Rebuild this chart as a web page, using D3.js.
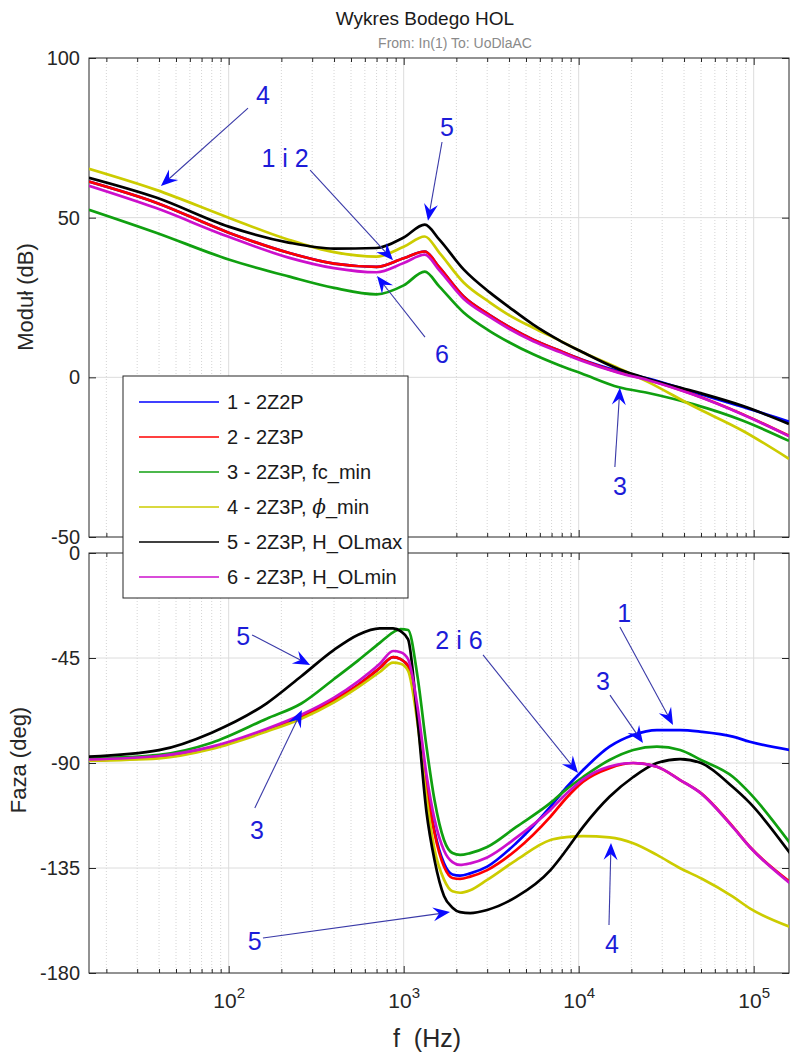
<!DOCTYPE html>
<html>
<head>
<meta charset="utf-8">
<script src="https://cdn.jsdelivr.net/npm/d3@7"></script>
<style>
  body { margin: 0; background: #fff; }
  text { font-family: "Liberation Sans", Arial, sans-serif; }
</style>
</head>
<body>
<svg width="790" height="1056"></svg>
<script>
// --- data ---
const seriesNames = ['1 - 2Z2P', '2 - 2Z3P', '3 - 2Z3P, fc_min', '4 - 2Z3P, \u03d5_min', '5 - 2Z3P, H_OLmax', '6 - 2Z3P, H_OLmin'];
const seriesColors = ['#0000ff', '#ff0000', '#10a010', '#cccc00', '#000000', '#cc10cc'];

const freqMag = [15.9, 38.5, 100, 220, 400, 700, 1000, 1320, 1600, 2200, 3100, 4000, 5500, 7800, 10400, 17000, 25000, 45000, 87000, 159000];
const magBlue    = [61.3, 54.7, 45.3, 39, 35.6, 34.6, 37.3, 39.4, 34.4, 25.3, 19.5, 15.8, 11.8, 8.3, 5.6, 1.9, -0.4, -4.6, -9.3, -13.9];
const magRed     = [61.3, 54.7, 45.3, 39, 35.6, 34.6, 37.3, 39.4, 34.4, 25.3, 19.5, 15.8, 11.8, 8.3, 5.5, 1.5, -0.8, -5.3, -11.6, -18.3];
const magGreen   = [52.5, 45.3, 36.9, 31.6, 28, 26, 28.8, 33.1, 28.4, 20.3, 14.5, 11, 7.2, 3.7, 1.2, -3.1, -4.9, -8.4, -13.6, -19.9];
const magYellow  = [65.3, 58.7, 50, 43.1, 39.2, 37.8, 40.9, 44.1, 39, 29.7, 23.5, 19.5, 15.5, 11.5, 8, 2.8, -1.5, -9, -16.8, -25.5];
const magBlack   = [62.5, 56.3, 47.2, 42.2, 40.3, 40.5, 43.8, 47.8, 43.1, 33.8, 26.6, 22, 16.5, 11.5, 8, 2.5, -0.5, -4.3, -9, -14.6];
const magMagenta = [60, 53, 44, 37.5, 34.2, 32.9, 35.8, 38.4, 33.5, 24.6, 18.9, 15.2, 11.3, 7.9, 5.2, 1.4, -0.9, -5.4, -11.7, -18.4];

const freqPhase = [15.9, 40, 80, 165, 260, 400, 550, 730, 870, 960, 1060, 1200, 1350, 1500, 1700, 1900, 2100, 2400, 3000, 4400, 6900, 8500, 10600, 15000, 20500, 28000, 38000, 50000, 76000, 95000, 161000];
const phBlue    = [-88.8, -87.5, -83.5, -75.9, -70, -63, -56.5, -49.3, -44.6, -45.5, -48.5, -70.1, -99, -119, -133, -137.8, -138.3, -137.3, -134.4, -124.3, -108.7, -100.5, -93, -83, -78, -75.9, -75.9, -76.6, -78.7, -80.9, -84.4];
const phRed     = [-88.8, -87.5, -83.5, -75.9, -70, -63, -56.5, -49.3, -44.6, -45.5, -48.5, -70.1, -100.1, -120, -134.4, -139.3, -139.7, -138.7, -135.9, -127.3, -113, -105, -98, -92.2, -90, -91.6, -97.3, -102.9, -117.3, -125.9, -140.9];
const phGreen   = [-88.1, -86.5, -81.3, -71, -64.5, -54, -46, -38.5, -34, -32.6, -33, -53, -83, -105.9, -123, -128.6, -129.4, -128.6, -126, -117.4, -107.1, -101.3, -96, -88.7, -84.4, -83, -84.4, -88.7, -95.9, -102.9, -124.3];
const phYellow  = [-89, -88, -84, -76.5, -71, -64, -57.5, -51, -47, -47.5, -50.5, -73, -105, -127, -140, -145, -145.6, -144.5, -140.1, -131.6, -123, -121.8, -121.3, -121.9, -124.4, -129.4, -135.1, -139.4, -147.3, -152.3, -160.2];
const phBlack   = [-87.3, -84.5, -77, -64.4, -52.8, -41.5, -35, -32.3, -32.3, -33.5, -37, -71.6, -111, -131.6, -147, -152, -153.9, -154.3, -153, -147.4, -135.9, -127.3, -117.4, -104.5, -96, -90, -88.3, -90, -100.3, -107.1, -128.6];
const phMagenta = [-88.5, -87, -83, -75.3, -69.3, -62, -55, -47.5, -42, -42.5, -45.5, -66, -95, -114, -127.5, -132.5, -133.7, -133, -130.5, -122, -110, -103.2, -97, -91.5, -90, -91.6, -97.3, -103, -117.5, -126, -141.5];

const magTicks = [100, 50, 0, -50];
const phaseTicks = [0, -45, -90, -135, -180];
const decadeTicks = [100, 1000, 10000, 100000];

// annotations in data units: [label, textF, textV, startF, startV, tipF, tipV]
const magNotes = [
  ['4', 157, 88.4, 129, 84.3, 41, 59.9],
  ['1 i 2', 210, 68.7, 292, 64.9, 869, 36.7],
  ['5', 1768, 78.4, 1656, 73.7, 1377, 49.0],
  ['6', 1656, 7.3, 1324, 12.6, 704, 31.7],
  ['3', 17200, -34.0, 16100, -28.1, 17200, -3.3]
];
const phaseNotes = [
  ['5', 121, -35.6, 136, -35.1, 292, -48],
  ['3', 145, -118.7, 141, -109.3, 262, -67.3],
  ['5', 141, -166.3, 157, -165, 1840, -153.9],
  ['2 i 6', 2070, -37.3, 2840, -43.7, 9910, -94.3],
  ['3', 13770, -54.9, 15100, -60.9, 23300, -81.4],
  ['1', 18200, -25.7, 17200, -31.7, 34600, -73.7],
  ['4', 15500, -167.6, 14900, -159.4, 15300, -124.3]
];

const magSeries = [magBlue, magRed, magGreen, magYellow, magBlack, magMagenta];
const phSeries = [phBlue, phRed, phGreen, phYellow, phBlack, phMagenta];

// --- layout ---
const svg = d3.select('svg');
const left = 89, right = 789;
const magTop = 58, magBottom = 537, phTop = 553, phBottom = 973;
const axisColor = '#262626';

const x = d3.scaleLog()
  .domain([100 / (2 * Math.PI), 1e6 / (2 * Math.PI)])
  .range([left, right]);
const yMag = d3.scaleLinear().domain([-50, 100]).range([magBottom, magTop]);
const yPh = d3.scaleLinear().domain([-180, 0]).range([phBottom, phTop]);

const allTicks = x.ticks();
const minorTicks = allTicks.filter(t => decadeTicks.indexOf(t) < 0);

function panel(y, top, bottom, yTicks, id, showX) {
  const g = svg.append('g');

  g.append('clipPath').attr('id', id)
    .append('rect').attr('x', left).attr('y', top)
    .attr('width', right - left).attr('height', bottom - top);

  // minor grid (dotted)
  g.selectAll('.minor').data(minorTicks).enter().append('line')
    .attr('x1', d => x(d)).attr('x2', d => x(d))
    .attr('y1', top).attr('y2', bottom)
    .attr('stroke', '#d4d4d4').attr('stroke-dasharray', '1,2');

  // major grid
  g.selectAll('.vmajor').data(decadeTicks).enter().append('line')
    .attr('x1', d => x(d)).attr('x2', d => x(d))
    .attr('y1', top).attr('y2', bottom)
    .attr('stroke', '#dcdcdc');
  g.selectAll('.hmajor').data(yTicks.slice(1, -1)).enter().append('line')
    .attr('x1', left).attr('x2', right)
    .attr('y1', d => y(d)).attr('y2', d => y(d))
    .attr('stroke', '#dcdcdc');

  // box
  g.append('rect').attr('x', left).attr('y', top)
    .attr('width', right - left).attr('height', bottom - top)
    .attr('fill', 'none').attr('stroke', axisColor);

  // y axes
  const ya = g.append('g').attr('transform', `translate(${left},0)`)
    .call(d3.axisLeft(y).tickValues(yTicks).tickSize(-7).tickPadding(9).tickFormat(d => String(d)));
  ya.selectAll('text').attr('font-size', 20).attr('fill', axisColor);
  g.append('g').attr('transform', `translate(${right},0)`)
    .call(d3.axisRight(y).tickValues(yTicks).tickSize(-7).tickFormat(''));

  // x axes, top and bottom, major and minor ticks
  g.append('g').attr('transform', `translate(0,${top})`)
    .call(d3.axisTop(x).tickValues(decadeTicks).tickSize(-7).tickFormat(''));
  g.append('g').attr('transform', `translate(0,${top})`)
    .call(d3.axisTop(x).tickValues(minorTicks).tickSize(-4).tickFormat(''));
  g.append('g').attr('transform', `translate(0,${bottom})`)
    .call(d3.axisBottom(x).tickValues(minorTicks).tickSize(-4).tickFormat(''));
  const xa = g.append('g').attr('transform', `translate(0,${bottom})`)
    .call(d3.axisBottom(x).tickValues(decadeTicks).tickSize(-7).tickPadding(20).tickFormat(''));
  if (showX) {
    xa.selectAll('.tick text').each(function(d) {
      const t = d3.select(this).attr('font-size', 21).attr('fill', axisColor);
      t.append('tspan').text('10');
      t.append('tspan').attr('dy', -10).attr('font-size', 15).text(Math.round(Math.log10(d)));
    });
  }
  g.selectAll('.domain').remove();
  g.selectAll('.tick line').attr('stroke', axisColor);
  return g;
}

const gMag = panel(yMag, magTop, magBottom, magTicks, 'clipMag', false);
const gPh = panel(yPh, phTop, phBottom, phaseTicks, 'clipPh', true);

function drawLines(g, freqs, series, y, clipId) {
  const line = d3.line()
    .x(d => x(d[0]))
    .y(d => y(d[1]))
    .curve(d3.curveMonotoneX);
  g.append('g').attr('clip-path', `url(#${clipId})`)
    .selectAll('path').data(series).enter().append('path')
    .attr('d', s => line(freqs.map((f, i) => [f, s[i]])))
    .attr('fill', 'none')
    .attr('stroke', (s, i) => seriesColors[i])
    .attr('stroke-width', 2.7)
    .attr('stroke-linejoin', 'round');
}
drawLines(gMag, freqMag, magSeries, yMag, 'clipMag');
drawLines(gPh, freqPhase, phSeries, yPh, 'clipPh');

// --- annotations ---
function notes(g, list, y) {
  list.forEach(n => {
    const tx = x(n[1]), ty = y(n[2]);
    const sx = x(n[3]), sy = y(n[4]);
    const px = x(n[5]), py = y(n[6]);
    const a = Math.atan2(py - sy, px - sx);
    const ux = Math.cos(a), uy = Math.sin(a);
    const L = 17, Wd = 7, notch = 11;
    g.append('line')
      .attr('x1', sx).attr('y1', sy)
      .attr('x2', px - ux * notch).attr('y2', py - uy * notch)
      .attr('stroke', '#3a3aa8').attr('stroke-width', 1.1);
    const pts = [
      [px, py],
      [px - ux * L - uy * Wd, py - uy * L + ux * Wd],
      [px - ux * notch, py - uy * notch],
      [px - ux * L + uy * Wd, py - uy * L - ux * Wd]
    ];
    g.append('path').attr('d', 'M' + pts.join('L') + 'Z').attr('fill', '#0a0aff');
    g.append('text').attr('x', tx).attr('y', ty).attr('dy', '0.36em')
      .attr('text-anchor', 'middle').attr('font-size', 25)
      .attr('fill', '#1c1cd8').text(n[0]);
  });
}
notes(gMag, magNotes, yMag);
notes(gPh, phaseNotes, yPh);

// --- titles ---
svg.append('text').attr('x', 425).attr('y', 25).attr('text-anchor', 'middle')
  .attr('font-size', 19).attr('fill', '#1a1a1a').text('Wykres Bodego HOL');
svg.append('text').attr('x', 455).attr('y', 48).attr('text-anchor', 'middle')
  .attr('font-size', 14).attr('fill', '#8a8a8a').text('From: In(1)  To: UoDlaAC');
svg.append('text').attr('transform', 'translate(33,297) rotate(-90)')
  .attr('text-anchor', 'middle').attr('font-size', 22).attr('fill', axisColor).text('Moduł (dB)');
svg.append('text').attr('transform', 'translate(26,760) rotate(-90)')
  .attr('text-anchor', 'middle').attr('font-size', 22).attr('fill', axisColor).text('Faza (deg)');
svg.append('text').attr('x', 427).attr('y', 1047).attr('text-anchor', 'middle')
  .attr('font-size', 25).attr('fill', axisColor).attr('xml:space', 'preserve').text('f  (Hz)');

// --- legend ---
const leg = svg.append('g').attr('transform', 'translate(123,376)');
leg.append('rect').attr('width', 285).attr('height', 222)
  .attr('fill', '#fff').attr('stroke', axisColor);
const rows = leg.selectAll('g.row').data(seriesNames).enter().append('g')
  .attr('transform', (d, i) => `translate(0,${26 + i * 35})`);
rows.append('line').attr('x1', 16).attr('x2', 96)
  .attr('stroke', (d, i) => seriesColors[i]).attr('stroke-width', 1.5);
rows.append('text').attr('x', 104).attr('dy', '0.36em').attr('font-size', 20)
  .attr('fill', '#1a1a1a')
  .each(function(d) {
    const t = d3.select(this);
    const k = d.indexOf('\u03d5');
    if (k < 0) { t.text(d); return; }
    t.append('tspan').text(d.slice(0, k));
    t.append('tspan').attr('font-style', 'italic').attr('font-family', 'DejaVu Serif').text('\u03d5');
    t.append('tspan').text(d.slice(k + 1));
  });
</script>
</body>
</html>
